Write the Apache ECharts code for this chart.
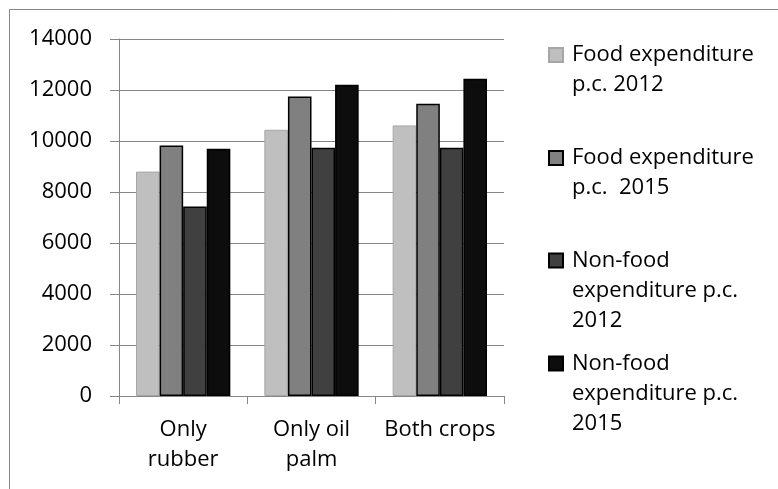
<!DOCTYPE html>
<html>
<head>
<meta charset="utf-8">
<script src="https://cdn.jsdelivr.net/npm/echarts@6/dist/echarts.min.js"></script>
<style>
html,body{margin:0;padding:0;background:#fff;}
#chart{width:778px;height:489px;}
</style>
</head>
<body>
<div id="chart"></div>
<script>
const categories = ['Only\nrubber', 'Only oil\npalm', 'Both crops'];
const seriesNames = ['Food expenditure p.c. 2012', 'Food expenditure p.c.  2015', 'Non-food expenditure p.c. 2012', 'Non-food expenditure p.c. 2015'];
const legendLines = [['Food expenditure', 'p.c. 2012'], ['Food expenditure', 'p.c.  2015'], ['Non-food', 'expenditure p.c.', '2012'], ['Non-food', 'expenditure p.c.', '2015']];
const food2012 = [8800, 10440, 10610];
const food2015 = [9820, 11750, 11460];
const nonfood2012 = [7430, 9740, 9740];
const nonfood2015 = [9700, 12210, 12440];
const yTicks = [0, 2000, 4000, 6000, 8000, 10000, 12000, 14000];

const seriesData = [food2012, food2015, nonfood2012, nonfood2015];
const fills = ['#bfbfbf', '#808080', '#404040', '#0d0d0d'];
const borders = ['#a6a6a6', '#000000', '#000000', '#000000'];
const borderWidths = [1, 1.5, 1.5, 1.5];
const FONT = 'Open Sans';
const AX = '#868686';

const chart = echarts.init(document.getElementById('chart'), null, {renderer: 'canvas'});

// icon centre in the reference: 55, 158, 260.5, 363.5
const iconCentres = [55, 158, 260.5, 363.5];
const legends = seriesNames.map((name, i) => {
  const lines = legendLines[i];
  // pad with blank lines above so the first text line sits level with the icon
  const pad = lines.length - 1;
  const text = '\n'.repeat(pad) + lines.join('\n');
  const totalLines = lines.length + pad;
  const halfH = totalLines * 30 / 2;
  return {
    data: [name],
    left: 548,
    top: iconCentres[i] - halfH,
    padding: 0,
    icon: 'rect',
    itemWidth: 14,
    itemHeight: 14,
    selectedMode: false,
    formatter: () => text,
    textStyle: {
      fontFamily: FONT,
      fontSize: 22,
      lineHeight: 30,
      color: '#000',
      padding: [0, 0, 0, 4]
    }
  };
});

chart.setOption({
  animation: false,
  backgroundColor: '#fff',
  graphic: [{
    type: 'rect',
    silent: true,
    shape: {x: 9.5, y: 9.5, width: 900, height: 600},
    style: {fill: null, stroke: AX, lineWidth: 1}
  }],
  legend: legends,
  grid: {left: 119, top: 39, width: 385, height: 357},
  xAxis: {
    type: 'category',
    data: categories,
    axisLine: {show: true, lineStyle: {color: AX, width: 1}},
    axisTick: {show: true, length: 8, lineStyle: {color: AX, width: 1}},
    axisLabel: {
      color: '#000', fontFamily: FONT, fontSize: 22, lineHeight: 30, margin: 19, interval: 0
    }
  },
  yAxis: {
    type: 'value',
    min: yTicks[0],
    max: yTicks[yTicks.length - 1],
    interval: 2000,
    axisLine: {show: true, lineStyle: {color: AX, width: 1}},
    axisTick: {show: true, length: 9, lineStyle: {color: AX, width: 1}},
    splitLine: {show: true, lineStyle: {color: AX, width: 1}},
    axisLabel: {color: '#000', fontFamily: FONT, fontSize: 22, margin: 27, formatter: v => String(v)}
  },
  series: seriesData.map((d, i) => ({
    type: 'bar',
    name: seriesNames[i],
    data: d,
    barGap: '0%',
    barCategoryGap: '26.5%',
    itemStyle: {color: fills[i], borderColor: borders[i], borderWidth: borderWidths[i]}
  }))
});
</script>
</body>
</html>
